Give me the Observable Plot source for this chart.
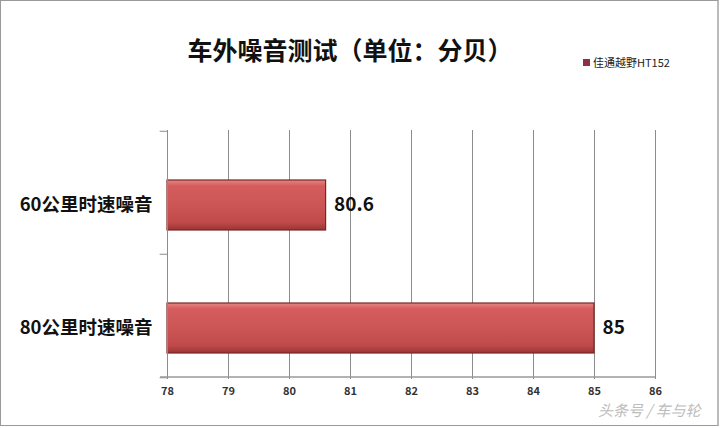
<!DOCTYPE html>
<html><head><meta charset="utf-8">
<script src="https://cdn.jsdelivr.net/npm/d3@7"></script>
<script src="https://cdn.jsdelivr.net/npm/@observablehq/plot@0.6"></script>
<style>
body{margin:0;background:#fff;}
#wrap{position:relative;width:720px;height:428px;overflow:hidden;font-family:"Noto Sans CJK SC","Noto Sans",sans-serif;}
#frame{position:absolute;left:0;top:0;width:716px;height:424px;border:1px solid #9a9a9a;border-right:2px solid #bbb;box-sizing:content-box;pointer-events:none;}
#title{position:absolute;left:0;width:700px;top:32px;text-align:center;font-size:25px;font-weight:bold;color:#111;line-height:34px;}
#legend{position:absolute;left:583px;top:54px;font-size:11px;color:#222;line-height:16px;}
#legend span.sw{display:inline-block;width:7px;height:7px;background:#8e3040;margin-right:3px;vertical-align:1px;}
#wm{position:absolute;left:598px;top:400px;font-size:15px;color:#bcbcbc;font-style:italic;line-height:20px;}
#chart{position:absolute;left:0;top:0;}
</style></head>
<body><div id="wrap"><div id="chart"></div><div id="title">车外噪音测试（单位：分贝）</div>
<div id="legend"><span class="sw"></span>佳通越野HT152</div>
<div id="wm">头条号 / 车与轮</div><div id="frame"></div></div>
<script>
const categories = ["60公里时速噪音", "80公里时速噪音"];
const values = [80.6, 85];
const xTicks = [78, 79, 80, 81, 82, 83, 84, 85, 86];
const seriesName = "佳通越野HT152";

const data = categories.map((c, i) => ({cat: c, v: values[i]}));

const plot = Plot.plot({
  width: 720, height: 428,
  marginLeft: 167, marginRight: 65, marginTop: 130, marginBottom: 51,
  style: {fontFamily: '"Noto Sans CJK SC","Noto Sans",sans-serif', background: "transparent", overflow: "visible"},
  x: {domain: [78, 86], ticks: xTicks, label: null, tickSize: 0, tickPadding: 10, tickFormat: d => String(d)},
  y: {domain: categories, padding: 0, label: null, axis: null},
  marks: [
    Plot.ruleX(xTicks, {x: d => d, stroke: "#8c8c8c", strokeWidth: 1, strokeOpacity: 1}),
    Plot.tickX(xTicks, {x: d => d, frameAnchor: "bottom", dy: 2, stroke: "#8c8c8c"}),
    Plot.barX(data, {x1: 78, x2: "v", y: "cat", insetTop: 49, insetBottom: 24, fill: "url(#barGrad)", stroke: "#7a2626", strokeWidth: 1.2}),
    Plot.text(data, {x: "v", y: "cat", text: d => String(d.v), dx: 8, dy: 12, textAnchor: "start", fontSize: 19, fontWeight: "bold", fill: "#111"}),
    Plot.text(data, {x: 78, y: "cat", text: "cat", dx: -15, dy: 12, textAnchor: "end", fontSize: 18.5, fontWeight: "bold", fill: "#111"}),
    Plot.ruleY(categories, {y: d => d, x1: 77.88, x2: 78, dy: -61.75, stroke: "#8c8c8c"}),
    Plot.ruleY([categories[1]], {y: d => d, x1: 77.88, x2: 78, dy: 61.75, stroke: "#8c8c8c"}),
    Plot.ruleX([78], {stroke: "#8c8c8c"}),
    Plot.axisX({ticks: xTicks, tickSize: 0, tickPadding: 10, fontSize: 11, fontWeight: "bold", fill: "#333", label: null})
  ]
});

document.getElementById("chart").appendChild(plot);
const svg = d3.select(plot);
const defs = svg.insert("defs", ":first-child");
const g = defs.append("linearGradient").attr("id", "barGrad").attr("x1", 0).attr("y1", 0).attr("x2", 0).attr("y2", 1);
[[0, "#e88585"], [0.12, "#d45c5c"], [0.5, "#cc5555"], [0.85, "#c04a4a"], [1, "#9a3434"]].forEach(([o, c]) =>
  g.append("stop").attr("offset", o).attr("stop-color", c));
// bottom axis line spanning the x scale range
svg.append("line").attr("x1", 160).attr("x2", 655).attr("y1", 377).attr("y2", 377).attr("stroke", "#9a9a9a").attr("stroke-width", 1.5);
</script>
</body></html>
